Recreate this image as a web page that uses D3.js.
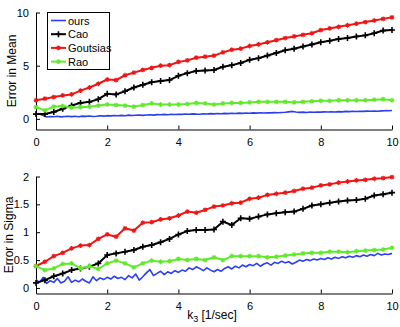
<!DOCTYPE html>
<html>
<head>
<meta charset="utf-8">
<script src="https://cdn.jsdelivr.net/npm/d3@7"></script>
<style>
  body { margin: 0; background: #fff; }
  text { font-family: "Liberation Sans", Arial, sans-serif; }
</style>
</head>
<body>
<div id="root"></div>
<script>
// k3 grid for the marked series (step 0.25) and for "ours" (step 0.1)
var kCoarse = d3.range(41).map(function (i) { return i * 0.25; });
var kFine = d3.range(101).map(function (i) { return i / 10; });

var xTicks = [0, 2, 4, 6, 8, 10];
var meanTicks = [0, 5, 10];
var sigmaTicks = [0, 0.5, 1, 1.5, 2];

var seriesNames = ["ours", "Cao", "Goutsias", "Rao"];

// Error in Mean
var meanOurs = [0.5, 0.45, 0.32, 0.18, 0.22, 0.2, 0.24, 0.19, 0.22, 0.25, 0.21,
  0.24, 0.2, 0.26, 0.23, 0.27, 0.22, 0.25, 0.29, 0.26, 0.3,
  0.28, 0.32, 0.29, 0.33, 0.3, 0.35, 0.31, 0.34, 0.37, 0.33,
  0.36, 0.39, 0.35, 0.4, 0.38, 0.42, 0.39, 0.43, 0.41, 0.44,
  0.42, 0.46, 0.43, 0.47, 0.45, 0.44, 0.48, 0.45, 0.49, 0.47,
  0.5, 0.48, 0.52, 0.49, 0.53, 0.51, 0.54, 0.52, 0.55, 0.53,
  0.56, 0.54, 0.57, 0.55, 0.58, 0.56, 0.59, 0.57, 0.6, 0.62,
  0.66, 0.7, 0.64, 0.61, 0.63, 0.6, 0.64, 0.62, 0.65, 0.63,
  0.66, 0.64, 0.67, 0.65, 0.68, 0.66, 0.7, 0.68, 0.71, 0.69,
  0.72, 0.7, 0.73, 0.71, 0.74, 0.72, 0.75, 0.77, 0.76, 0.78];
var meanCao = [0.45, 0.45, 0.65, 0.95, 1.25, 1.5, 1.6, 1.85, 2.35, 2.3, 2.6, 2.95, 3.2, 3.45,
  3.55, 3.65, 4.05, 4.3, 4.5, 4.55, 4.6, 4.9, 5.05, 5.25, 5.55, 5.7, 5.95, 6.2, 6.45, 6.6,
  6.8, 7.0, 7.2, 7.35, 7.5, 7.6, 7.75, 7.85, 8.05, 8.3, 8.35];
var meanGoutsias = [1.75, 1.9, 2.05, 2.2, 2.3, 2.65, 2.95, 3.3, 3.7, 3.65, 4.1, 4.35, 4.6, 4.8,
  5.0, 5.05, 5.35, 5.5, 5.75, 5.85, 5.95, 6.25, 6.5, 6.6, 6.85, 7.0, 7.2, 7.4, 7.6, 7.75,
  7.9, 8.05, 8.35, 8.5, 8.65, 8.8, 8.95, 9.1, 9.25, 9.4, 9.55];
var meanRao = [1.1, 0.8, 1.15, 1.2, 1.05, 1.1, 1.15, 1.25, 1.35, 1.3, 1.25, 1.15, 1.3, 1.45,
  1.35, 1.35, 1.35, 1.4, 1.5, 1.45, 1.35, 1.45, 1.5, 1.5, 1.55, 1.6, 1.6, 1.6, 1.6, 1.55,
  1.6, 1.65, 1.7, 1.7, 1.75, 1.75, 1.75, 1.75, 1.8, 1.85, 1.75];

// Error in Sigma
var sigmaOurs = [0.15, 0.1, 0.19, 0.08, 0.13, 0.1, 0.17, 0.09, 0.12, 0.2, 0.1,
  0.14, 0.11, 0.16, 0.12, 0.09, 0.2, 0.13, 0.18, 0.15, 0.19,
  0.16, 0.21, 0.17, 0.19, 0.15, 0.22, 0.18, 0.25, 0.14, 0.2,
  0.27, 0.33, 0.22, 0.26, 0.3, 0.24, 0.29, 0.26, 0.31, 0.28,
  0.32, 0.3, 0.36, 0.33, 0.38, 0.35, 0.31, 0.36, 0.32, 0.29,
  0.33, 0.3, 0.35, 0.38, 0.34, 0.39, 0.36, 0.41, 0.38, 0.42,
  0.4, 0.44, 0.39, 0.43, 0.45, 0.41, 0.46, 0.44, 0.48, 0.45,
  0.47, 0.43, 0.46, 0.5, 0.48, 0.51, 0.49, 0.52, 0.5, 0.53,
  0.51, 0.54, 0.52, 0.55, 0.53, 0.56, 0.54, 0.57, 0.55, 0.58,
  0.56, 0.59, 0.57, 0.6, 0.58, 0.62, 0.59, 0.61, 0.6, 0.62];
var sigmaCao = [0.09, 0.14, 0.21, 0.26, 0.32, 0.35, 0.38, 0.44, 0.59, 0.62, 0.65, 0.68, 0.74,
  0.77, 0.82, 0.88, 0.96, 1.02, 1.04, 1.04, 1.05, 1.19, 1.13, 1.25, 1.24, 1.28, 1.32, 1.34,
  1.36, 1.37, 1.42, 1.48, 1.5, 1.53, 1.55, 1.57, 1.58, 1.6, 1.66, 1.68, 1.71];
var sigmaGoutsias = [0.39, 0.47, 0.57, 0.63, 0.71, 0.76, 0.77, 0.88, 0.96, 0.92, 1.07, 1.03,
  1.17, 1.18, 1.23, 1.25, 1.3, 1.37, 1.35, 1.4, 1.46, 1.48, 1.52, 1.53, 1.6, 1.62, 1.67,
  1.69, 1.71, 1.74, 1.78, 1.8, 1.84, 1.86, 1.89, 1.91, 1.93, 1.94, 1.96, 1.97, 1.99];
var sigmaRao = [0.39, 0.32, 0.35, 0.43, 0.44, 0.35, 0.39, 0.34, 0.44, 0.49, 0.44, 0.37, 0.44,
  0.49, 0.47, 0.48, 0.52, 0.5, 0.52, 0.5, 0.55, 0.5, 0.57, 0.57, 0.57, 0.57, 0.55, 0.56,
  0.58, 0.6, 0.62, 0.63, 0.63, 0.65, 0.65, 0.64, 0.66, 0.67, 0.68, 0.69, 0.72];

var colors = { ours: "#2b3ff0", Cao: "#000000", Goutsias: "#f01414", Rao: "#5fea2a" };
var markers = { ours: null, Cao: "plus", Goutsias: "star", Rao: "star" };

var svg = d3.select("#root").append("svg")
  .attr("width", 400).attr("height", 327);

var x = d3.scaleLinear().domain([0, 10]).range([36, 392]);

function drawMarker(g, type, px, py, color) {
  if (type === "plus") {
    g.append("path")
      .attr("d", "M" + (px - 3) + "," + py + "H" + (px + 3) + "M" + px + "," + (py - 3) + "V" + (py + 3))
      .attr("stroke", color).attr("stroke-width", 1.6).attr("fill", "none");
  } else if (type === "star") {
    var r = 2.4, d = 1.7;
    g.append("path")
      .attr("d", "M" + (px - r) + "," + py + "H" + (px + r) +
        "M" + px + "," + (py - r) + "V" + (py + r) +
        "M" + (px - d) + "," + (py - d) + "L" + (px + d) + "," + (py + d) +
        "M" + (px - d) + "," + (py + d) + "L" + (px + d) + "," + (py - d))
      .attr("stroke", color).attr("stroke-width", 1.1).attr("fill", "none");
  }
}

function panel(yDomain, yRange, yTicks, tickFmt, data, label, labelX) {
  var y = d3.scaleLinear().domain(yDomain).range(yRange);
  var g = svg.append("g");

  // axes, matlab style: ticks inside
  var xAxis = g.append("g")
    .attr("transform", "translate(0," + yRange[0] + ")")
    .call(d3.axisBottom(x).tickValues(xTicks).tickSize(-4).tickPadding(9).tickSizeOuter(0));
  var yAxis = g.append("g")
    .attr("transform", "translate(36,0)")
    .call(d3.axisLeft(y).tickValues(yTicks).tickFormat(tickFmt).tickSize(-4).tickPadding(7).tickSizeOuter(0));
  [xAxis, yAxis].forEach(function (a) {
    a.select(".domain").attr("stroke", "#000").attr("stroke-width", 1);
    a.selectAll(".tick line").attr("stroke", "#000");
    a.selectAll(".tick text").attr("font-size", 11).attr("fill", "#000")
      .style("font-family", "Liberation Sans, Arial, sans-serif");
  });

  var line = d3.line()
    .x(function (d) { return x(d[0]); })
    .y(function (d) { return y(d[1]); });

  data.forEach(function (s) {
    var pts = s.k.map(function (k, i) { return [k, s.v[i]]; });
    g.append("path").datum(pts)
      .attr("d", line)
      .attr("fill", "none")
      .attr("stroke", colors[s.name])
      .attr("stroke-width", s.name === "ours" ? 1.6 : 2)
      .attr("stroke-linejoin", "round");
    if (markers[s.name]) {
      var mg = g.append("g");
      pts.forEach(function (p) {
        drawMarker(mg, markers[s.name], x(p[0]), y(p[1]), colors[s.name]);
      });
    }
  });

  g.append("text")
    .attr("transform", "translate(" + labelX + "," + ((yRange[0] + yRange[1]) / 2) + ") rotate(-90)")
    .attr("text-anchor", "middle")
    .attr("dominant-baseline", "central")
    .attr("font-size", 12)
    .text(label);
  return g;
}

// draw order: ours, Cao, Goutsias, Rao
panel([-1, 10], [129.5, 12.5], meanTicks, d3.format("d"), [
  { name: "ours", k: kFine, v: meanOurs },
  { name: "Cao", k: kCoarse, v: meanCao },
  { name: "Goutsias", k: kCoarse, v: meanGoutsias },
  { name: "Rao", k: kCoarse, v: meanRao }
], "Error in Mean", 12);

panel([-0.1, 2], [293.5, 176.5], sigmaTicks, function (d) { return d3.format("")(d); }, [
  { name: "ours", k: kFine, v: sigmaOurs },
  { name: "Cao", k: kCoarse, v: sigmaCao },
  { name: "Goutsias", k: kCoarse, v: sigmaGoutsias },
  { name: "Rao", k: kCoarse, v: sigmaRao }
], "Error in Sigma", 8.5);

// x label
var xl = svg.append("text")
  .attr("x", 212).attr("y", 319)
  .attr("text-anchor", "middle")
  .attr("font-size", 12);
xl.append("tspan").text("k");
xl.append("tspan").attr("font-size", 9).attr("dy", 3).text("3");
xl.append("tspan").attr("dy", -3).text(" [1/sec]");

// legend
var lg = svg.append("g");
lg.append("rect")
  .attr("x", 47.5).attr("y", 12.5).attr("width", 62).attr("height", 57)
  .attr("fill", "#fff").attr("stroke", "#000").attr("stroke-width", 1);
seriesNames.forEach(function (n, i) {
  var yy = 20.5 + i * 13.7;
  lg.append("line")
    .attr("x1", 51).attr("x2", 66).attr("y1", yy).attr("y2", yy)
    .attr("stroke", colors[n]).attr("stroke-width", n === "ours" ? 1.6 : 2);
  if (markers[n]) drawMarker(lg, markers[n], 58.5, yy, colors[n]);
  lg.append("text")
    .attr("x", 68).attr("y", yy)
    .attr("dominant-baseline", "central")
    .attr("font-size", 11)
    .text(n);
});
</script>
</body>
</html>
